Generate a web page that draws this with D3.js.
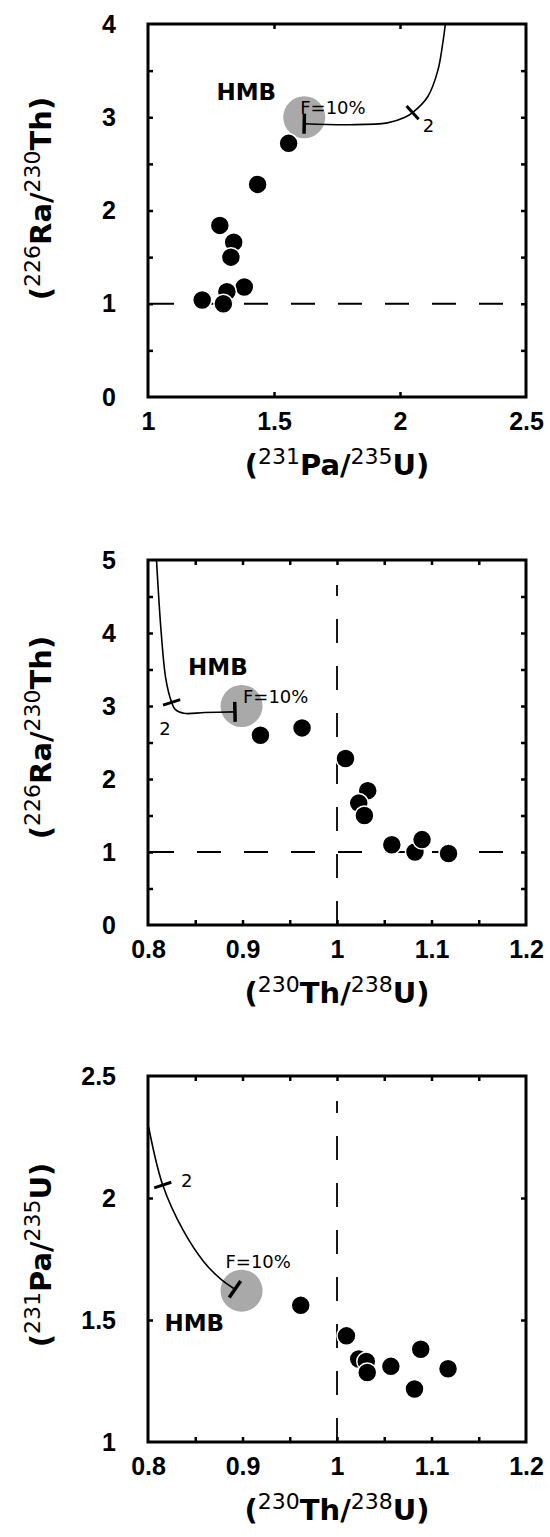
<!DOCTYPE html>
<html>
<head>
<meta charset="utf-8">
<script src="https://cdn.jsdelivr.net/npm/d3@7"></script>
<style>
  body { margin: 0; background: #fff; }
  svg { display: block; }
  text { font-family: "Liberation Sans", Arial, Helvetica, sans-serif; }
  .wide { font-family: "DejaVu Sans", sans-serif; }
</style>
</head>
<body>
<div id="chart"></div>
<script>
// ---- data ----
// panel 1: (226Ra/230Th) vs (231Pa/235U)
const paU_1 = [1.558, 1.435, 1.285, 1.340, 1.329, 1.382, 1.313, 1.215, 1.299];
const raTh_1 = [2.72, 2.28, 1.84, 1.66, 1.50, 1.18, 1.13, 1.04, 1.00];

// panel 2: (226Ra/230Th) vs (230Th/238U)
const thU_2 = [0.919, 0.963, 1.009, 1.0325, 1.023, 1.029, 1.058, 1.0825, 1.090, 1.118];
const raTh_2 = [2.60, 2.70, 2.28, 1.84, 1.67, 1.50, 1.10, 1.00, 1.17, 0.98];

// panel 3: (231Pa/235U) vs (230Th/238U)
const thU_3 = [0.9616, 1.010, 1.023, 1.031, 1.032, 1.057, 1.082, 1.0886, 1.1175];
const paU_3 = [1.56, 1.435, 1.34, 1.33, 1.285, 1.31, 1.217, 1.38, 1.30];

// HMB source composition (grey disc)
const hmb = { thU: 0.899, paU: 1.62, raTh: 3.0 };

// melting model curves, starting at F=10%; index 4 is the "2" mark
const curve_1 = [[1.62, 2.93], [1.80, 2.92], [1.95, 2.94], [2.02, 3.00], [2.05, 3.05], [2.11, 3.22], [2.15, 3.50], [2.17, 3.80], [2.18, 4.0]];
const curve_2 = [[0.892, 2.92], [0.860, 2.91], [0.838, 2.90], [0.829, 2.95], [0.825, 3.05], [0.819, 3.36], [0.814, 4.0], [0.809, 5.0]];
const curve_3 = [[0.892, 1.626], [0.878, 1.664], [0.859, 1.739], [0.837, 1.869], [0.8156, 2.053], [0.8007, 2.29]];
const markIdx = 4;

// axis ticks
const ticksPaU_x = [1.5, 2];
const labelsPaU_x = [1, 1.5, 2, 2.5];
const ticksRaTh1 = [0.5, 1, 1.5, 2, 2.5, 3, 3.5];
const labelsRaTh1 = [0, 1, 2, 3, 4];
const ticksThU = [0.85, 0.9, 0.95, 1, 1.05, 1.1, 1.15];
const labelsThU = [0.8, 0.9, 1, 1.1, 1.2];
const ticksRaTh2 = [0.5, 1, 1.5, 2, 2.5, 3, 3.5, 4, 4.5];
const labelsRaTh2 = [0, 1, 2, 3, 4, 5];
const ticksPaU_y = [1.5, 2];
const labelsPaU_y = [1, 1.5, 2, 2.5];

const W = 550, H = 1537;
const left = 148, right = 526;
const svg = d3.select("#chart").append("svg").attr("width", W).attr("height", H);

const panels = [
  {
    top: 24, bottom: 397, xDomain: [1, 2.5], yDomain: [0, 4],
    xs: paU_1, ys: raTh_1, curve: curve_1,
    hmb: [hmb.paU, hmb.raTh],
    xTicks: ticksPaU_x, xLabels: labelsPaU_x, yTicks: ticksRaTh1, yLabels: labelsRaTh1,
    refX: [], refY: [1], yShift: -12,
    xTitle: ["231", "Pa/", "235", "U)"], yTitle: ["226", "Ra/", "230", "Th)"],
    hmbText: [1.39, 3.19], fText: [1.604, 3.04], twoText: [2.09, 2.84]
  },
  {
    top: 560, bottom: 925, xDomain: [0.8, 1.2], yDomain: [0, 5],
    xs: thU_2, ys: raTh_2, curve: curve_2,
    hmb: [hmb.thU, hmb.raTh],
    xTicks: ticksThU, xLabels: labelsThU, yTicks: ticksRaTh2, yLabels: labelsRaTh2,
    refX: [1], refY: [1], yShift: -5,
    xTitle: ["230", "Th/", "238", "U)"], yTitle: ["226", "Ra/", "230", "Th)"],
    hmbText: [0.874, 3.43], fText: [0.9005, 3.04], twoText: [0.812, 2.60]
  },
  {
    top: 1076, bottom: 1442, xDomain: [0.8, 1.2], yDomain: [1, 2.5],
    xs: thU_3, ys: paU_3, curve: curve_3,
    hmb: [hmb.thU, hmb.paU],
    xTicks: ticksThU, xLabels: labelsThU, yTicks: ticksPaU_y, yLabels: labelsPaU_y,
    refX: [1], refY: [], yShift: -4,
    xTitle: ["230", "Th/", "238", "U)"], yTitle: ["231", "Pa/", "235", "U)"],
    hmbText: [0.849, 1.454], fText: [0.882, 1.713], twoText: [0.835, 2.046]
  }
];

const fmt = d3.format("~g");

function title(g, parts, attrs) {
  const t = g.append("text").attr("class", "wide").attr("font-size", 29).attr("font-weight", "bold");
  Object.entries(attrs).forEach(([k, v]) => t.attr(k, v));
  t.append("tspan").text("(");
  t.append("tspan").attr("font-size", 22).attr("font-weight", "normal").attr("dy", -11).text(parts[0]);
  t.append("tspan").attr("dy", 11).text(parts[1]);
  t.append("tspan").attr("font-size", 22).attr("font-weight", "normal").attr("dy", -11).text(parts[2]);
  t.append("tspan").attr("dy", 11).text(parts[3]);
}

// short bar across the curve at point i, perpendicular to it
function crossMark(g, pts, i, len, width) {
  const a = pts[Math.max(i - 1, 0)], b = pts[Math.min(i + 1, pts.length - 1)];
  let dx = b[0] - a[0], dy = b[1] - a[1];
  const n = Math.hypot(dx, dy);
  dx /= n; dy /= n;
  const c = pts[i];
  g.append("line")
    .attr("x1", c[0] - dy * len / 2).attr("y1", c[1] + dx * len / 2)
    .attr("x2", c[0] + dy * len / 2).attr("y2", c[1] - dx * len / 2)
    .attr("stroke", "#000").attr("stroke-width", width);
}

panels.forEach(p => {
  const g = svg.append("g");
  const x = d3.scaleLinear().domain(p.xDomain).range([left, right]);
  const y = d3.scaleLinear().domain(p.yDomain).range([p.bottom, p.top]);

  // inward tick marks on all four sides
  const noDomain = s => s.select(".domain").remove();
  g.append("g").attr("transform", `translate(0,${p.bottom})`)
    .call(d3.axisBottom(x).tickValues(p.xTicks).tickSize(-5).tickFormat("")).call(noDomain);
  g.append("g").attr("transform", `translate(0,${p.top})`)
    .call(d3.axisTop(x).tickValues(p.xTicks).tickSize(-5).tickFormat("")).call(noDomain);
  g.append("g").attr("transform", `translate(${left},0)`)
    .call(d3.axisLeft(y).tickValues(p.yTicks).tickSize(-5).tickFormat("")).call(noDomain);
  g.append("g").attr("transform", `translate(${right},0)`)
    .call(d3.axisRight(y).tickValues(p.yTicks).tickSize(-5).tickFormat("")).call(noDomain);
  g.selectAll(".tick line").attr("stroke-width", 2.5);

  // tick labels
  const xl = g.append("g").attr("transform", `translate(0,${p.bottom})`)
    .call(d3.axisBottom(x).tickValues(p.xLabels).tickSize(0).tickPadding(15).tickFormat(fmt)).call(noDomain);
  const yl = g.append("g").attr("transform", `translate(${left},0)`)
    .call(d3.axisLeft(y).tickValues(p.yLabels).tickSize(0).tickPadding(32).tickFormat(fmt)).call(noDomain);
  [xl, yl].forEach(a => a.attr("font-size", 25).attr("font-weight", "bold")
    .attr("font-family", null).selectAll("text").attr("fill", "#000"));

  // frame
  g.append("rect").attr("x", left).attr("y", p.top)
    .attr("width", right - left).attr("height", p.bottom - p.top)
    .attr("fill", "none").attr("stroke", "#000").attr("stroke-width", 3);

  // equilibrium lines
  p.refY.forEach(v => g.append("line")
    .attr("x1", left + 2).attr("x2", right - 2).attr("y1", y(v)).attr("y2", y(v))
    .attr("stroke", "#000").attr("stroke-width", 1.8).attr("stroke-dasharray", "24,23"));
  p.refX.forEach(v => g.append("line")
    .attr("x1", x(v)).attr("x2", x(v)).attr("y1", p.bottom).attr("y2", p.top + 25)
    .attr("stroke", "#000").attr("stroke-width", 1.8).attr("stroke-dasharray", "24,23"));

  // HMB disc
  g.append("circle").attr("cx", x(p.hmb[0])).attr("cy", y(p.hmb[1])).attr("r", 21)
    .attr("fill", "#a9a9a9");

  // melting curve with F marks
  const pts = p.curve.map(d => [x(d[0]), y(d[1])]);
  g.append("path").attr("d", d3.line().curve(d3.curveCatmullRom.alpha(0.5))(pts))
    .attr("fill", "none").attr("stroke", "#000").attr("stroke-width", 1.6);
  crossMark(g, pts, markIdx, 18, 3);
  crossMark(g, pts, 0, 20, 3.5);

  // samples
  g.selectAll("circle.pt").data(p.xs).join("circle").attr("class", "pt")
    .attr("cx", d => x(d)).attr("cy", (d, i) => y(p.ys[i])).attr("r", 9.5)
    .attr("fill", "#000").attr("stroke", "#fff").attr("stroke-width", 1.5);

  // annotations
  g.append("text").attr("class", "wide").attr("x", x(p.hmbText[0])).attr("y", y(p.hmbText[1]))
    .attr("text-anchor", "middle").attr("font-size", 23).attr("font-weight", "bold").text("HMB");
  g.append("text").attr("class", "wide").attr("x", x(p.fText[0])).attr("y", y(p.fText[1]))
    .attr("font-size", 18).text("F=10%");
  g.append("text").attr("class", "wide").attr("x", x(p.twoText[0])).attr("y", y(p.twoText[1]))
    .attr("font-size", 18).text("2");

  // axis titles
  title(g, p.xTitle, { x: (left + right) / 2, y: p.bottom + 78, "text-anchor": "middle" });
  title(g, p.yTitle, { transform: `translate(51,${(p.top + p.bottom) / 2 + p.yShift}) rotate(-90)`, "text-anchor": "middle" });
});
</script>
</body>
</html>
